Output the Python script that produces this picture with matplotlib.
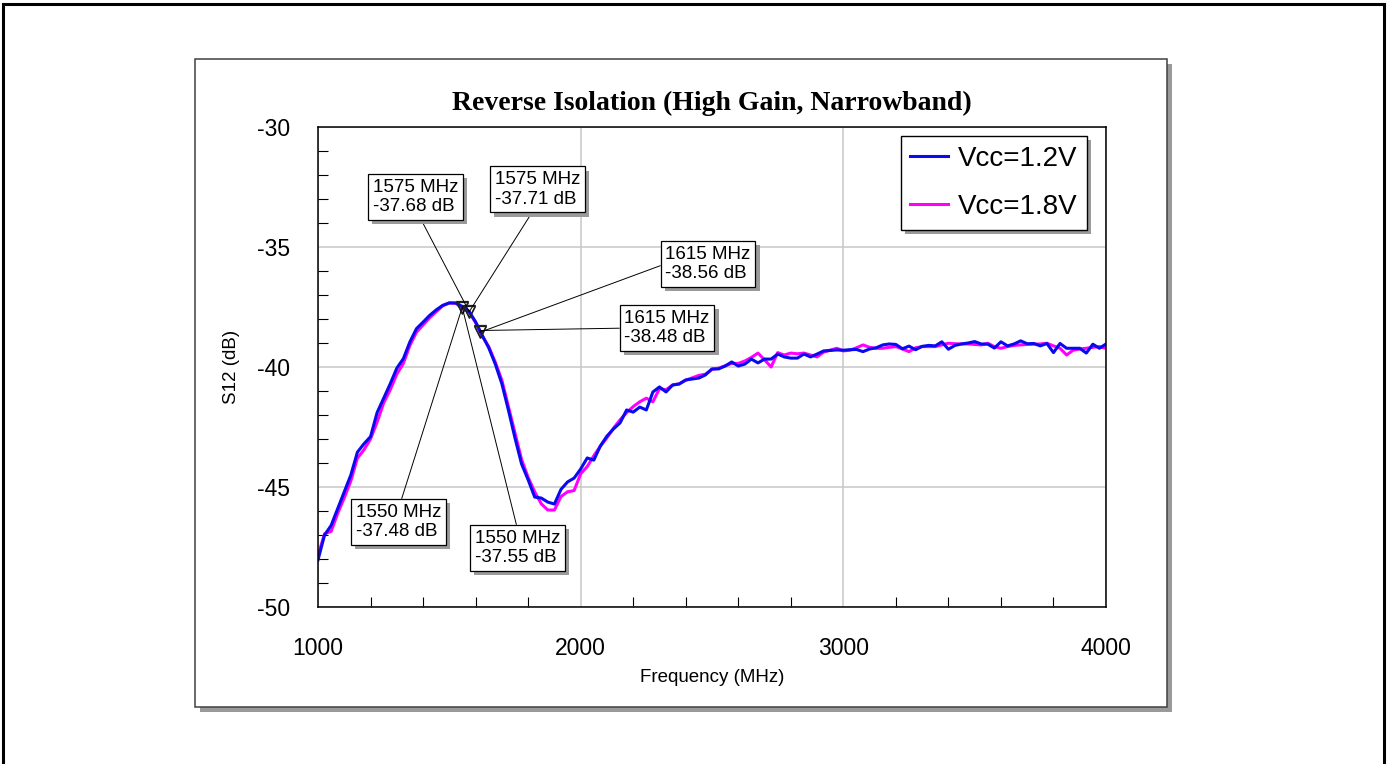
"""
Reverse isolation (S12) of the LNA in high gain, narrowband mode,
swept 1-4 GHz at two supply voltages, with marker readouts near GPS L1.
"""

import matplotlib
matplotlib.use('Agg')
from matplotlib import pyplot as plt
from matplotlib import patheffects
from matplotlib.patches import Rectangle
from matplotlib.ticker import MultipleLocator


# sweep points (MHz)
FREQ_MHZ = [
    1000, 1025, 1050, 1075, 1100, 1125, 1150, 1175, 1200, 1225,
    1250, 1275, 1300, 1325, 1350, 1375, 1400, 1425, 1450, 1475,
    1500, 1525, 1550, 1575, 1600, 1625, 1650, 1675, 1700, 1725,
    1750, 1775, 1800, 1825, 1850, 1875, 1900, 1925, 1950, 1975,
    2000, 2025, 2050, 2075, 2100, 2125, 2150, 2175, 2200, 2225,
    2250, 2275, 2300, 2325, 2350, 2375, 2400, 2425, 2450, 2475,
    2500, 2525, 2550, 2575, 2600, 2625, 2650, 2675, 2700, 2725,
    2750, 2775, 2800, 2825, 2850, 2875, 2900, 2925, 2950, 2975,
    3000, 3025, 3050, 3075, 3100, 3125, 3150, 3175, 3200, 3225,
    3250, 3275, 3300, 3325, 3350, 3375, 3400, 3425, 3450, 3475,
    3500, 3525, 3550, 3575, 3600, 3625, 3650, 3675, 3700, 3725,
    3750, 3775, 3800, 3825, 3850, 3875, 3900, 3925, 3950, 3975,
    4000,
]

# S12 (dB), Vcc = 1.2 V
S12_1V2 = [
    -48.04, -47.00, -46.60, -45.90, -45.20, -44.50, -43.55, -43.20, -42.90, -41.90,
    -41.30, -40.70, -40.05, -39.65, -38.95, -38.40, -38.13, -37.85, -37.62, -37.43,
    -37.33, -37.33, -37.48, -37.68, -38.12, -38.67, -39.20, -39.88, -40.70, -41.80,
    -42.96, -44.04, -44.70, -45.42, -45.46, -45.63, -45.71, -45.10, -44.79, -44.63,
    -44.25, -43.79, -43.88, -43.29, -42.88, -42.58, -42.33, -41.79, -41.88, -41.67,
    -41.79, -41.04, -40.83, -41.04, -40.75, -40.71, -40.54, -40.50, -40.46, -40.33,
    -40.08, -40.08, -39.96, -39.79, -39.96, -39.88, -39.67, -39.83, -39.67, -39.67,
    -39.46, -39.58, -39.63, -39.63, -39.46, -39.58, -39.46, -39.33, -39.31, -39.29,
    -39.30, -39.28, -39.27, -39.36, -39.25, -39.20, -39.08, -39.04, -39.06, -39.24,
    -39.13, -39.28, -39.14, -39.10, -39.12, -38.95, -39.26, -39.10, -39.04, -39.00,
    -38.94, -39.04, -39.05, -39.21, -38.95, -39.12, -39.04, -38.91, -39.03, -39.02,
    -39.12, -39.02, -39.40, -39.02, -39.22, -39.22, -39.22, -39.42, -39.05, -39.22,
    -39.04,
]

# S12 (dB), Vcc = 1.8 V
S12_1V8 = [
    -47.85, -46.95, -46.85, -46.10, -45.45, -44.75, -43.80, -43.45, -43.00, -42.30,
    -41.50, -40.95, -40.30, -39.85, -39.10, -38.55, -38.25, -37.95, -37.70, -37.45,
    -37.33, -37.35, -37.55, -37.71, -38.15, -38.72, -39.15, -39.80, -40.55, -41.65,
    -42.75, -43.85, -44.60, -45.20, -45.70, -45.96, -45.96, -45.40, -45.20, -45.15,
    -44.45, -44.15, -43.70, -43.30, -42.95, -42.55, -42.20, -41.90, -41.65, -41.45,
    -41.30, -41.45, -40.90, -40.95, -40.75, -40.70, -40.55, -40.45, -40.35, -40.30,
    -40.10, -40.05, -39.95, -39.85, -39.85, -39.75, -39.60, -39.42, -39.70, -40.00,
    -39.40, -39.50, -39.42, -39.45, -39.42, -39.50, -39.58, -39.38, -39.30, -39.22,
    -39.33, -39.30, -39.20, -39.08, -39.18, -39.22, -39.22, -39.18, -39.15, -39.25,
    -39.36, -39.20, -39.15, -39.15, -39.15, -39.08, -39.01, -39.03, -39.04, -39.04,
    -39.06, -39.08, -39.01, -39.15, -39.22, -39.15, -39.10, -39.08, -39.06, -39.05,
    -39.04, -39.01, -39.12, -39.22, -39.50, -39.30, -39.25, -39.22, -39.18, -39.15,
    -39.22,
]

# marker readouts
MARKER_FREQ = [1550, 1575, 1615]
MARKER_1V2 = [-37.48, -37.68, -38.48]
MARKER_1V8 = [-37.55, -37.71, -38.56]

# colours
CLR_1V2 = '#0a0af0'
CLR_1V8 = '#ff00ff'
CLR_GRID = '#c8c8c8'
CLR_SHADOW = '#9a9a9a'

# figure size in pixels
W, H = 1389, 764

# readout boxes: (series, marker index, box centre freq, box centre dB, leader start)
READOUTS = [
    ('1v2', 1, 1371, -32.92, (0.54, 0.0)),
    ('1v8', 1, 1836, -32.60, (0.47, 0.0)),
    ('1v8', 2, 2485, -35.70, (0.0, 0.5)),
    ('1v2', 2, 2329, -38.38, (0.0, 0.5)),
    ('1v2', 0, 1306, -46.46, (0.52, 1.0)),
    ('1v8', 0, 1760, -47.54, (0.50, 1.0)),
]


def fig_rect(x0, y0, x1, y1, **kw):
    """Rectangle from pixel box (origin top-left) in figure coords"""
    return Rectangle((x0 / W, 1 - y1 / H), (x1 - x0) / W, (y1 - y0) / H,
                     transform=plt.gcf().transFigure, **kw)


def draw_frame(fig):
    """Outer border and the shadowed plot panel"""
    fig.add_artist(fig_rect(3, 4, 1383.5, 800, fill=False, ec='black',
                            lw=2.2, zorder=-3))
    fig.add_artist(fig_rect(200, 64, 1172, 712, fc=CLR_SHADOW, ec='none',
                            zorder=-2))
    fig.add_artist(fig_rect(195, 59, 1167, 707, fc='white', ec='#404040',
                            lw=1.1, zorder=-1))


def shadow():
    return [patheffects.SimplePatchShadow(offset=(3, -3), shadow_rgbFace=CLR_SHADOW,
                                          alpha=1.0),
            patheffects.Normal()]


def plot_s12():
    plt.rcParams['font.family'] = 'Liberation Sans'
    plt.rcParams['axes.unicode_minus'] = False
    fig = plt.figure(figsize=(W / 100, H / 100), dpi=100)
    draw_frame(fig)

    ax = fig.add_axes([318 / W, 1 - 607 / H, 788 / W, 480 / H])
    line_1v8, = ax.plot(FREQ_MHZ, S12_1V8, color=CLR_1V8, lw=2.2, label='Vcc=1.8V')
    line_1v2, = ax.plot(FREQ_MHZ, S12_1V2, color=CLR_1V2, lw=2.2, label='Vcc=1.2V')

    ax.plot(MARKER_FREQ, MARKER_1V8, 'v', mfc='none', mec='#202020', ms=9, mew=0.9)
    ax.plot(MARKER_FREQ, MARKER_1V2, 'v', mfc='none', mec='#202020', ms=9, mew=0.9)

    ax.set_xlim(1000, 4000)
    ax.set_ylim(-50, -30)
    ax.xaxis.set_major_locator(MultipleLocator(1000))
    ax.xaxis.set_minor_locator(MultipleLocator(200))
    ax.yaxis.set_major_locator(MultipleLocator(5))
    ax.yaxis.set_minor_locator(MultipleLocator(1))
    ax.tick_params(which='major', length=0, labelsize=16.5)
    ax.tick_params(axis='y', which='major', pad=20)
    ax.tick_params(axis='x', which='major', pad=21.5)
    ax.tick_params(which='minor', direction='in', length=7, width=0.8, color='black')
    ax.grid(which='major', color=CLR_GRID, lw=1.1)
    ax.set_axisbelow(True)
    for spine in ax.spines.values():
        spine.set_linewidth(1.1)

    ax.set_xlabel('Frequency (MHz)', fontsize=13.5)
    ax.xaxis.set_label_coords(0.5, (607 - 669) / 480)
    ax.set_ylabel('S12 (dB)', fontsize=13.5, va='center')
    ax.yaxis.set_label_coords((232 - 318) / 788, 0.5)

    ax.text(0.5, (607 - 103) / 480, 'Reverse Isolation (High Gain, Narrowband)',
            transform=ax.transAxes, ha='center', va='center', fontsize=20,
            fontweight='bold', family='Liberation Serif')

    leg = ax.legend(handles=[line_1v2, line_1v8], loc='upper right',
                    bbox_to_anchor=(0.9759, 0.98125), borderaxespad=0,
                    fontsize=20, fancybox=False, edgecolor='black', framealpha=1,
                    handlelength=1.35, handletextpad=0.35, labelspacing=0.8,
                    borderpad=0.35)
    leg.get_frame().set_linewidth(1.0)
    leg.get_frame().set_path_effects(shadow())

    values = {'1v2': MARKER_1V2, '1v8': MARKER_1V8}
    for series, idx, tx, ty, relpos in READOUTS:
        freq = MARKER_FREQ[idx]
        db = values[series][idx]
        ann = ax.annotate('{} MHz\n{:.2f} dB'.format(freq, db), xy=(freq, db),
                          xytext=(tx, ty), textcoords='data', ha='center',
                          va='center', multialignment='left', fontsize=13.5,
                          linespacing=1.2,
                          bbox=dict(boxstyle='square,pad=0.25', fc='white',
                                    ec='black', lw=0.9),
                          arrowprops=dict(arrowstyle='-', color='black', lw=0.7,
                                          shrinkA=0, shrinkB=0, relpos=relpos))
        ann.get_bbox_patch().set_path_effects(shadow())

    fig.savefig('out.png', dpi=100)


if __name__ == '__main__':
    plot_s12()
